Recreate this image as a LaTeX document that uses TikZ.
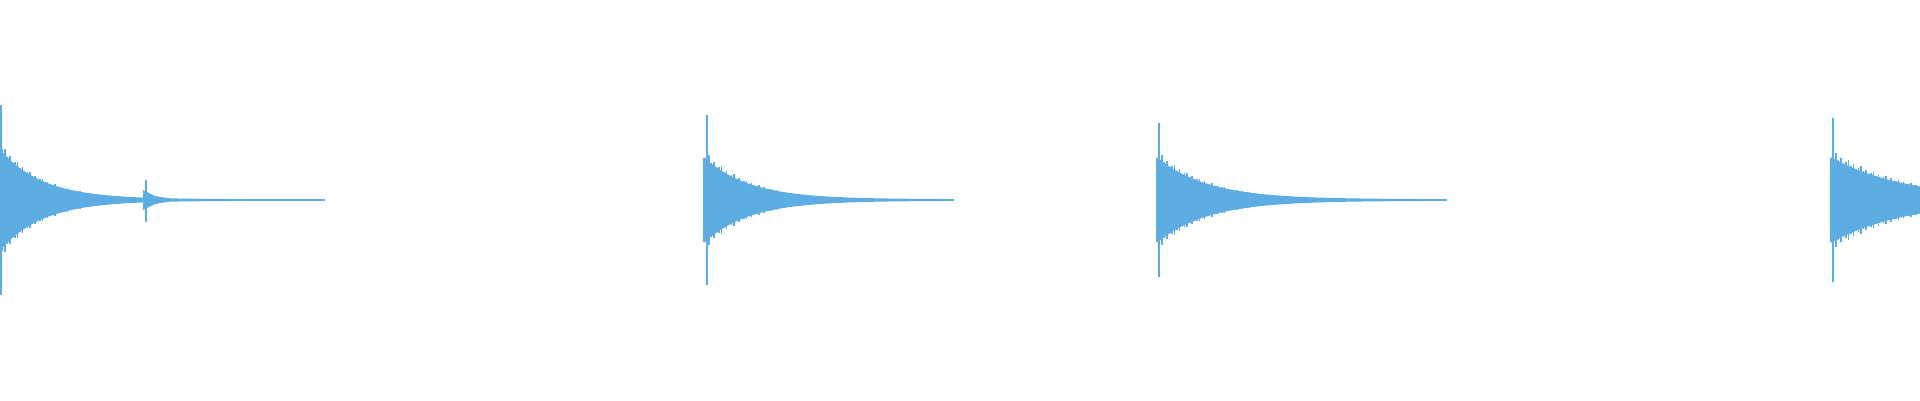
\documentclass[tikz,border=0pt]{standalone}
\begin{document}
\begin{tikzpicture}
\definecolor{wave}{HTML}{5DADE2}
\tikzset{envfill/.style={fill=wave}, spike/.style={draw=wave, line width=0.4pt}}
\useasboundingbox (0,0) rectangle (19.2,4);
% burst: start, amplitude, decay, length
\newcommand{\burst}[4]{
\fill[envfill] plot[domain=0:#4, samples=100, smooth] ({#1+\x},{2+#2*exp(-\x/#3)+0.008})
  -- plot[domain=#4:0, samples=100, smooth] ({#1+\x},{2-#2*exp(-\x/#3)-0.008}) -- cycle;
\foreach \i in {0,...,40}{
  \pgfmathsetmacro{\px}{#1+0.025*\i}
  \pgfmathsetmacro{\pa}{(#2+0.08*mod(\i*7,5)/4)*exp(-0.025*\i/#3)}
  \draw[spike] (\px,{2-\pa}) -- (\px,{2+\pa});
}
}
\burst{0}{0.5}{0.42}{3.25}
\draw[spike] (0.01,1.05) -- (0.01,2.95);
\draw[spike] (1.46,1.78) -- (1.46,2.2);
\fill[envfill] (1.43,1.9) -- (1.55,1.96) -- (1.7,1.985) -- (1.7,2.015) -- (1.55,2.04) -- (1.43,2.1) -- cycle;
\burst{7.04}{0.42}{0.45}{2.5}
\draw[spike] (7.07,1.15) -- (7.07,2.85);
\burst{11.57}{0.42}{0.5}{2.9}
\draw[spike] (11.59,1.23) -- (11.59,2.77);
\burst{18.31}{0.42}{0.75}{0.89}
\draw[spike] (18.33,1.18) -- (18.33,2.82);
\end{tikzpicture}
\end{document}
